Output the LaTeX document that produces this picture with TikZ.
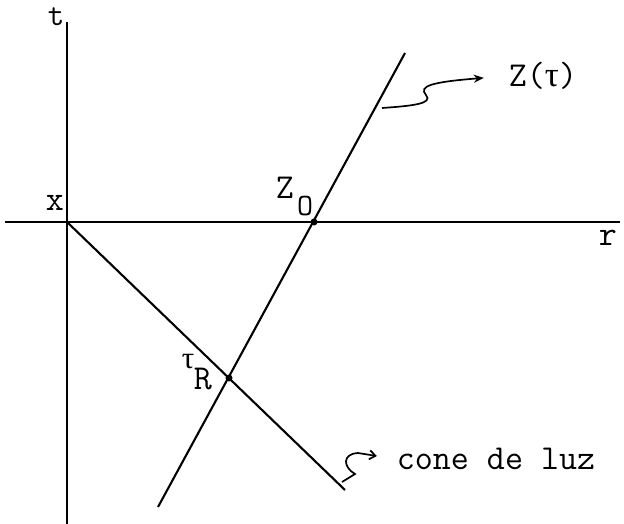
\documentclass[tikz,border=0pt]{standalone}
\usepackage{fontspec}
\newfontfamily\grk{Liberation Serif}
\usetikzlibrary{arrows.meta}

\begin{document}
\begin{tikzpicture}[x=1pt, y=-1pt, font=\ttfamily\fontsize{35}{40}\selectfont,
  axis/.style={line width=2.4pt, black},
  world/.style={line width=2.1pt, black},
  dot/.style={circle, fill=black, inner sep=0pt, minimum size=7pt},
  lbl/.style={inner sep=1pt, text=black},
  sublbl/.style={inner sep=1pt, font=\ttfamily\fontsize{31}{35}\selectfont},
  pointer/.style={line width=1.7pt, black}]
\useasboundingbox (0,0) rectangle (624,524);
% axes
\coordinate (tTop) at (67,22);
\coordinate (tBot) at (67,524);
\coordinate (rLeft) at (5,222);
\coordinate (rRight) at (620,222);
\coordinate (orig) at (67,222);
\draw[axis] (tBot) -- (tTop);
\draw[axis] (rLeft) -- (rRight);
\node[lbl, anchor=base, inner sep=0pt, font=\ttfamily\fontsize{32}{36}\selectfont] (tlab) at (56,26) {t};
\node[lbl] (xlab) at (55,203) {x};
\node[lbl] (rlab) at (608,238) {r};
% world line and light cone
\coordinate (zBot) at (158,507);
\coordinate (zTop) at (405,53);
\coordinate (coneEnd) at (345,490);
\draw[world] (zBot) -- (zTop);
\draw[world] (orig) -- (coneEnd);
\node[dot] (z0) at (314,222) {};
\node[dot] (tauR) at (229,378) {};
\node[lbl] (zlab) at (285,188) {Z};
\node[sublbl] (zsub) at (305,206) {O};
\node[sublbl] (taulab) at (188,362) {\grk τ};
\node[lbl] (rsub) at (203,379) {R};
% pointers
\node[lbl] (ztau) at (543,76) {Z({\grk τ})};
\node[lbl] (cone) at (496,459) {cone de luz};
\coordinate (zFoot) at (382,108);
\coordinate (coneFoot) at (342,482);
\draw[pointer, shorten >=24pt, -{Stealth[length=10pt, width=8pt]}] (zFoot)
  .. controls (410,106) and (434,104) .. (426,95)
  .. controls (418,86) and (432,82) .. (ztau.west);
\draw[pointer, shorten >=19pt, -{Straight Barb[length=6pt, width=9pt]}] (coneFoot) -- (355,474)
  .. controls (343,467) and (342,454) .. (358,453) -- (cone.west);
\end{tikzpicture}
\end{document}
